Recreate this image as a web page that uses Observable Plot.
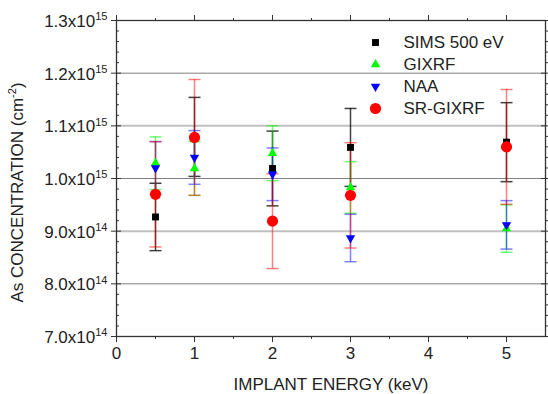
<!DOCTYPE html>
<html>
<head>
<meta charset="utf-8">
<script src="https://cdn.jsdelivr.net/npm/d3@7"></script>
<script src="https://cdn.jsdelivr.net/npm/@observablehq/plot@0.6"></script>
<style>
  html, body { margin: 0; padding: 0; background: white; }
  svg { display: block; }
</style>
</head>
<body>
<div id="chart"></div>
<script>
// ---- data ----
const energies = [0.5, 1, 2, 3, 5];
const seriesNames = ["SIMS 500 eV", "GIXRF", "NAA", "SR-GIXRF"];
const simsValues  = [9.27e14, 1.079e15, 1.019e15, 1.059e15, 1.069e15];
const simsErrors  = [6.4e13, 7.5e13, 7.1e13, 7.4e13, 7.5e13];
const gixrfValues = [1.029e15, 1.019e15, 1.048e15, 9.83e14, 9.05e14];
const gixrfErrors = [5.0e13, 5.1e13, 5.2e13, 4.9e13, 4.5e13];
const naaValues   = [1.02e15, 1.04e15, 1.008e15, 8.87e14, 9.12e14];
const naaErrors   = [5.0e13, 5.1e13, 5.0e13, 4.5e13, 4.6e13];
const srValues    = [9.7e14, 1.078e15, 9.19e14, 9.68e14, 1.06e15];
const srErrors    = [1.0e14, 1.1e14, 9.0e13, 1.0e14, 1.09e14];

const xMajorTicks = [0, 1, 2, 3, 4, 5];
const xMinorTicks = [0.5, 1.5, 2.5, 3.5, 4.5];
const yMajorTicks = [7e14, 8e14, 9e14, 1e15, 1.1e15, 1.2e15, 1.3e15];
const yMinorTicks = d3.range(7e14, 1.3e15 + 1, 2e13).filter(v => Math.abs(v / 1e14 - Math.round(v / 1e14)) > 1e-6);
const gridDark = [8e14, 1e15, 1.2e15];
const gridLight = [9e14, 1.1e15];
const xTitle = "IMPLANT ENERGY (keV)";
const yTitle = "As CONCENTRATION (cm|-2|)";

// ---- symbols ----
const capSymbol = {draw(ctx, size) { const r = Math.sqrt(size / Math.PI); ctx.moveTo(-r, 0); ctx.lineTo(r, 0); }};
const triangleDown = {draw(ctx, size) {
  const y = -Math.sqrt(size / (Math.sqrt(3) * 3));
  ctx.moveTo(0, -2 * y); ctx.lineTo(-Math.sqrt(3) * y, y); ctx.lineTo(Math.sqrt(3) * y, y); ctx.closePath();
}};

const series = [
  {name: seriesNames[0], values: simsValues,  errors: simsErrors,  color: "#000000", barOpacity: 0.75, symbol: "square",   r: 3.9},
  {name: seriesNames[1], values: gixrfValues, errors: gixrfErrors, color: "#00ff00", barOpacity: 0.55, symbol: "triangle", r: 3.5},
  {name: seriesNames[2], values: naaValues,   errors: naaErrors,   color: "#0000ff", barOpacity: 0.5,  symbol: triangleDown, r: 3.5},
  {name: seriesNames[3], values: srValues,    errors: srErrors,    color: "#ff0000", barOpacity: 0.5,  symbol: "circle",   r: 5.6}
].map(s => ({...s, rows: energies.map((e, i) => ({energy: e, value: s.values[i], lo: s.values[i] - s.errors[i], hi: s.values[i] + s.errors[i]}))}));

const sciFormat = v => {
  const e = Math.floor(Math.log10(v) + 1e-9);
  return (v / 10 ** e).toFixed(1) + "x10|" + e + "|";
};
const blank = () => "";
const FS = 17;

const marks = [
  Plot.gridY({ticks: gridLight, stroke: "#c0c0c0", strokeOpacity: 1, strokeWidth: 2}),
  Plot.gridY({ticks: gridDark, stroke: "#808080", strokeOpacity: 1, strokeWidth: 1}),
  // error bars
  ...series.flatMap(s => [
    Plot.ruleX(s.rows, {x: "energy", y1: "lo", y2: "hi", stroke: s.color, strokeOpacity: s.barOpacity, strokeWidth: 1.5}),
    Plot.dot(s.rows, {x: "energy", y: "hi", symbol: capSymbol, r: 6, fill: "none", stroke: s.color, strokeOpacity: s.barOpacity, strokeWidth: 1.5}),
    Plot.dot(s.rows, {x: "energy", y: "lo", symbol: capSymbol, r: 6, fill: "none", stroke: s.color, strokeOpacity: s.barOpacity, strokeWidth: 1.5})
  ]),
  // points
  ...series.map(s => Plot.dot(s.rows, {x: "energy", y: "value", symbol: s.symbol, r: s.r, fill: s.color, stroke: "none"})),
  // legend
  ...series.flatMap((s, i) => [
    Plot.dot([s.name], {frameAnchor: "top-left", dx: 259, dy: 22 + 22 * i, symbol: s.symbol, r: s.r, fill: s.color, stroke: "none"}),
    Plot.text([s.name], {frameAnchor: "top-left", dx: 287, dy: 22 + 22 * i, text: d => d, textAnchor: "start", lineAnchor: "middle", fontSize: FS, fill: "#222"})
  ]),
  Plot.frame({stroke: "#333", strokeWidth: 1.3}),
  // x axes
  Plot.axisX({anchor: "bottom", ticks: xMajorTicks, tickSize: 6, tickPadding: 4, tickFormat: d => String(d), label: null, fontSize: FS, stroke: "#333", fill: "#222"}),
  Plot.axisX({anchor: "bottom", ticks: xMinorTicks, tickSize: 3, tickFormat: blank, label: null, stroke: "#333"}),
  Plot.axisX({anchor: "top", ticks: xMajorTicks, tickSize: 6, tickFormat: blank, label: null, stroke: "#333"}),
  Plot.axisX({anchor: "top", ticks: xMinorTicks, tickSize: 3, tickFormat: blank, label: null, stroke: "#333"}),
  // y axes
  Plot.axisY({anchor: "left", ticks: yMajorTicks, tickSize: 10, dx: 5, tickFormat: blank, label: null, stroke: "#333"}),
  Plot.axisY({anchor: "left", ticks: yMinorTicks, tickSize: 3, dx: 3, tickFormat: blank, label: null, stroke: "#333"}),
  Plot.axisY({anchor: "left", ticks: yMajorTicks, tickSize: 0, tickPadding: 9, dy: 1, tickFormat: sciFormat, label: null, fontSize: FS, fill: "#222"}),
  Plot.axisY({anchor: "right", ticks: yMajorTicks, tickSize: 8, dx: -5, tickFormat: blank, label: null, stroke: "#333"}),
  Plot.axisY({anchor: "right", ticks: yMinorTicks, tickSize: 3, tickFormat: blank, label: null, stroke: "#333"}),
  // axis titles
  Plot.text([xTitle], {frameAnchor: "bottom", dy: 48, text: d => d, lineAnchor: "middle", fontSize: FS, fill: "#222"}),
  Plot.text([yTitle], {frameAnchor: "left", text: d => d, lineAnchor: "middle", fontSize: FS, fill: "#222"})
];

const chart = Plot.plot({
  width: 548,
  height: 394,
  marginLeft: 116,
  marginRight: 3,
  marginTop: 20,
  marginBottom: 58,
  style: {fontFamily: "'Liberation Sans', Arial, sans-serif", fontSize: FS + "px", background: "white", color: "#222"},
  x: {domain: [0, 5.5], axis: null},
  y: {domain: [7e14, 1.3e15], axis: null},
  marks
});

// y title: rotate and place left of the tick labels
chart.querySelectorAll("text").forEach(t => {
  if (t.textContent === yTitle) {
    t.removeAttribute("x"); t.removeAttribute("y");
    t.setAttribute("transform", "translate(22,192) rotate(-90)");
    t.setAttribute("text-anchor", "middle");
  }
});

// superscripts: "base|sup|rest"
chart.querySelectorAll("text").forEach(t => {
  const s = t.textContent;
  if (!s.includes("|")) return;
  const [a, b, c] = s.split("|");
  while (t.firstChild) t.removeChild(t.firstChild);
  const ns = "http://www.w3.org/2000/svg";
  const t1 = document.createElementNS(ns, "tspan"); t1.textContent = a; t.appendChild(t1);
  const t2 = document.createElementNS(ns, "tspan"); t2.textContent = b;
  t2.setAttribute("dy", "-0.6em"); t2.setAttribute("font-size", "0.65em"); t.appendChild(t2);
  if (c) {
    const t3 = document.createElementNS(ns, "tspan"); t3.textContent = c;
    t3.setAttribute("dy", "0.39em"); t.appendChild(t3);
  }
});

document.getElementById("chart").appendChild(chart);
</script>
</body>
</html>
